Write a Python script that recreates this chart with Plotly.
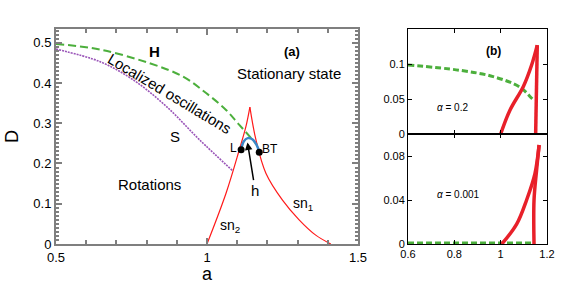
import plotly.graph_objects as go

# ---------- Panel (a) data ----------
H_a = [0.5, 0.645, 0.81, 0.92, 0.997, 1.063, 1.107, 1.151, 1.165]
H_D = [0.497, 0.483, 0.449, 0.416, 0.375, 0.333, 0.296, 0.259, 0.247]

S_a = [0.5, 0.645, 0.755, 0.865, 0.975, 1.085]
S_D = [0.484, 0.453, 0.408, 0.342, 0.259, 0.182]

sn2_a = [1.0, 1.063, 1.107, 1.129, 1.142]
sn2_D = [0.0, 0.126, 0.234, 0.292, 0.340]

sn1_a = [1.142, 1.162, 1.195, 1.25, 1.305, 1.36, 1.41]
sn1_D = [0.340, 0.259, 0.176, 0.109, 0.060, 0.022, 0.0]

h_a = [1.113, 1.122, 1.135, 1.15, 1.165, 1.173]
h_D = [0.234, 0.255, 0.263, 0.260, 0.245, 0.228]

pts_a = [1.113, 1.173]
pts_D = [0.234, 0.228]

# ---------- Panel (b) data ----------
b1_green_a = [0.6, 0.824, 0.968, 1.083, 1.134, 1.145]
b1_green_v = [0.0986, 0.091, 0.082, 0.067, 0.051, 0.047]
b1_red_left_a = [1.0, 1.04, 1.098, 1.134, 1.158]
b1_red_left_v = [0.0, 0.034, 0.068, 0.099, 0.127]
b1_red_right_a = [1.158, 1.151]
b1_red_right_v = [0.127, 0.0]

b2_green_a = [0.6, 1.141]
b2_green_v = [0.001, 0.001]
b2_red_left_a = [1.005, 1.069, 1.112, 1.148, 1.166]
b2_red_left_v = [0.0, 0.018, 0.040, 0.064, 0.090]
b2_red_right_a = [1.166, 1.155, 1.144, 1.144]
b2_red_right_v = [0.090, 0.067, 0.040, 0.0]

GREEN = "#4caf3c"
PURPLE = "#9a55b8"
RED = "#ff1a1a"
RED_B = "#e8202a"
BLUE = "#3a86c8"
FONT = "Liberation Sans, Arial, sans-serif"

fig = go.Figure()

# Panel (a)
fig.add_trace(go.Scatter(x=H_a, y=H_D, mode="lines", line=dict(color=GREEN, width=2, dash="8px,4px", shape="spline"), xaxis="x", yaxis="y"))
fig.add_trace(go.Scatter(x=S_a, y=S_D, mode="lines", line=dict(color=PURPLE, width=1.6, dash="2px,1px", shape="spline"), xaxis="x", yaxis="y"))
fig.add_trace(go.Scatter(x=sn2_a, y=sn2_D, mode="lines", line=dict(color=RED, width=1.2, shape="spline"), xaxis="x", yaxis="y"))
fig.add_trace(go.Scatter(x=sn1_a, y=sn1_D, mode="lines", line=dict(color=RED, width=1.2, shape="spline"), xaxis="x", yaxis="y"))
fig.add_trace(go.Scatter(x=h_a, y=h_D, mode="lines", line=dict(color=BLUE, width=2.5, shape="spline"), xaxis="x", yaxis="y"))
fig.add_trace(go.Scatter(x=pts_a, y=pts_D, mode="markers", marker=dict(color="black", size=7), xaxis="x", yaxis="y"))

# Panel (b) top
fig.add_trace(go.Scatter(x=b1_green_a, y=b1_green_v, mode="lines", line=dict(color=GREEN, width=3, dash="6px,3px", shape="spline"), xaxis="x2", yaxis="y2"))
fig.add_trace(go.Scatter(x=b1_red_left_a, y=b1_red_left_v, mode="lines", line=dict(color=RED_B, width=3.5, shape="spline"), xaxis="x2", yaxis="y2"))
fig.add_trace(go.Scatter(x=b1_red_right_a, y=b1_red_right_v, mode="lines", line=dict(color=RED_B, width=3.5), xaxis="x2", yaxis="y2"))

# Panel (b) bottom
fig.add_trace(go.Scatter(x=b2_green_a, y=b2_green_v, mode="lines", line=dict(color=GREEN, width=3, dash="6px,3px"), xaxis="x3", yaxis="y3"))
fig.add_trace(go.Scatter(x=b2_red_left_a, y=b2_red_left_v, mode="lines", line=dict(color=RED_B, width=3.5, shape="spline"), xaxis="x3", yaxis="y3"))
fig.add_trace(go.Scatter(x=b2_red_right_a, y=b2_red_right_v, mode="lines", line=dict(color=RED_B, width=3.5, shape="spline"), xaxis="x3", yaxis="y3"))

GRAY = "#7f7f7f"
ax_a = dict(showgrid=False, zeroline=False, showline=True, linecolor=GRAY, linewidth=2, mirror="ticks",
            ticks="inside", tickcolor=GRAY, ticklen=6, tickwidth=1.5, automargin=False,
            tickfont=dict(family=FONT, size=13, color="black"))
ax_b = dict(showgrid=False, zeroline=False, showline=True, linecolor="black", linewidth=1, mirror="ticks",
            ticks="inside", tickcolor="black", ticklen=4, tickwidth=1, automargin=False,
            tickfont=dict(family=FONT, size=11, color="black"))

fig.update_layout(
    width=581, height=284, margin=dict(l=0, r=0, t=0, b=0, autoexpand=False),
    paper_bgcolor="white", plot_bgcolor="white", showlegend=False,
    font=dict(family=FONT, color="black"),
    xaxis=dict(ax_a, domain=[56/581, 358/581], range=[0.5, 1.5], tickvals=[0.5, 1, 1.5], ticktext=["0.5", "1", "1.5"],
               minor=dict(dtick=0.1, ticks="inside", ticklen=4, tickcolor=GRAY),
               title=dict(text="a", font=dict(size=18), standoff=2), anchor="y"),
    yaxis=dict(ax_a, domain=[1-244/284, 1-29/284], range=[0, 0.534], tickvals=[0, 0.1, 0.2, 0.3, 0.4, 0.5],
               ticktext=["0", "0.1", "0.2", "0.3", "0.4", "0.5"],
               minor=dict(dtick=0.01, ticks="inside", ticklen=3, tickcolor=GRAY),
               title=dict(text="D", font=dict(size=18), standoff=10), anchor="x"),
    xaxis2=dict(ax_b, domain=[408/581, 547/581], range=[0.6, 1.2], tickvals=[0.6, 0.8, 1.0, 1.2], showticklabels=False, anchor="y2"),
    yaxis2=dict(ax_b, domain=[1-134/284, 1-29/284], range=[0, 0.15], tickvals=[0, 0.05, 0.1], ticktext=["0", "0.05", "0.1"], anchor="x2"),
    xaxis3=dict(ax_b, domain=[408/581, 547/581], range=[0.6, 1.2], tickvals=[0.6, 0.8, 1.0, 1.2], ticktext=["0.6", "0.8", "1", "1.2"], anchor="y3"),
    yaxis3=dict(ax_b, domain=[1-244/284, 1-134/284], range=[0, 0.1], tickvals=[0, 0.04, 0.08], ticktext=["0", "0.04", "0.08"], anchor="x3"),
)

def txt(x, y, s, size=13, xref="x", yref="y", bold=False, angle=0):
    fig.add_annotation(x=x, y=y, xref=xref, yref=yref, text=(f"<b>{s}</b>" if bold else s), showarrow=False,
                       textangle=angle, font=dict(family=FONT, size=size, color="black"))

txt(0.827, 0.478, "H", 15, bold=True)
txt(1.281, 0.478, "(a)", 13, bold=True)
txt(1.27, 0.423, "Stationary state", 15)
txt(0.876, 0.373, "Localized oscillations", 15, angle=31)
txt(0.893, 0.267, "S", 15)
txt(0.808, 0.149, "Rotations", 15)
txt(1.087, 0.238, "L", 12)
txt(1.21, 0.235, "BT", 12)
txt(1.16, 0.133, "h", 15)
txt(1.076, 0.045, "sn<sub>2</sub>", 14)
txt(1.318, 0.1, "sn<sub>1</sub>", 14)

fig.add_annotation(x=1.134, y=0.252, ax=1.155, ay=0.155, xref="x", yref="y", axref="x", ayref="y",
                   showarrow=True, arrowhead=2, arrowsize=1, arrowwidth=1.5, arrowcolor="black", text="")

txt(0.971, 0.118, "(b)", 12, xref="x2", yref="y2", bold=True)
txt(0.79, 0.038, "<i>α</i> = 0.2", 10, xref="x2", yref="y2")
txt(0.817, 0.045, "<i>α</i> = 0.001", 10, xref="x3", yref="y3")

fig.write_html("out.html", config={"displayModeBar": False},
               post_script="document.body.style.margin='0';document.body.style.overflow='hidden';")
